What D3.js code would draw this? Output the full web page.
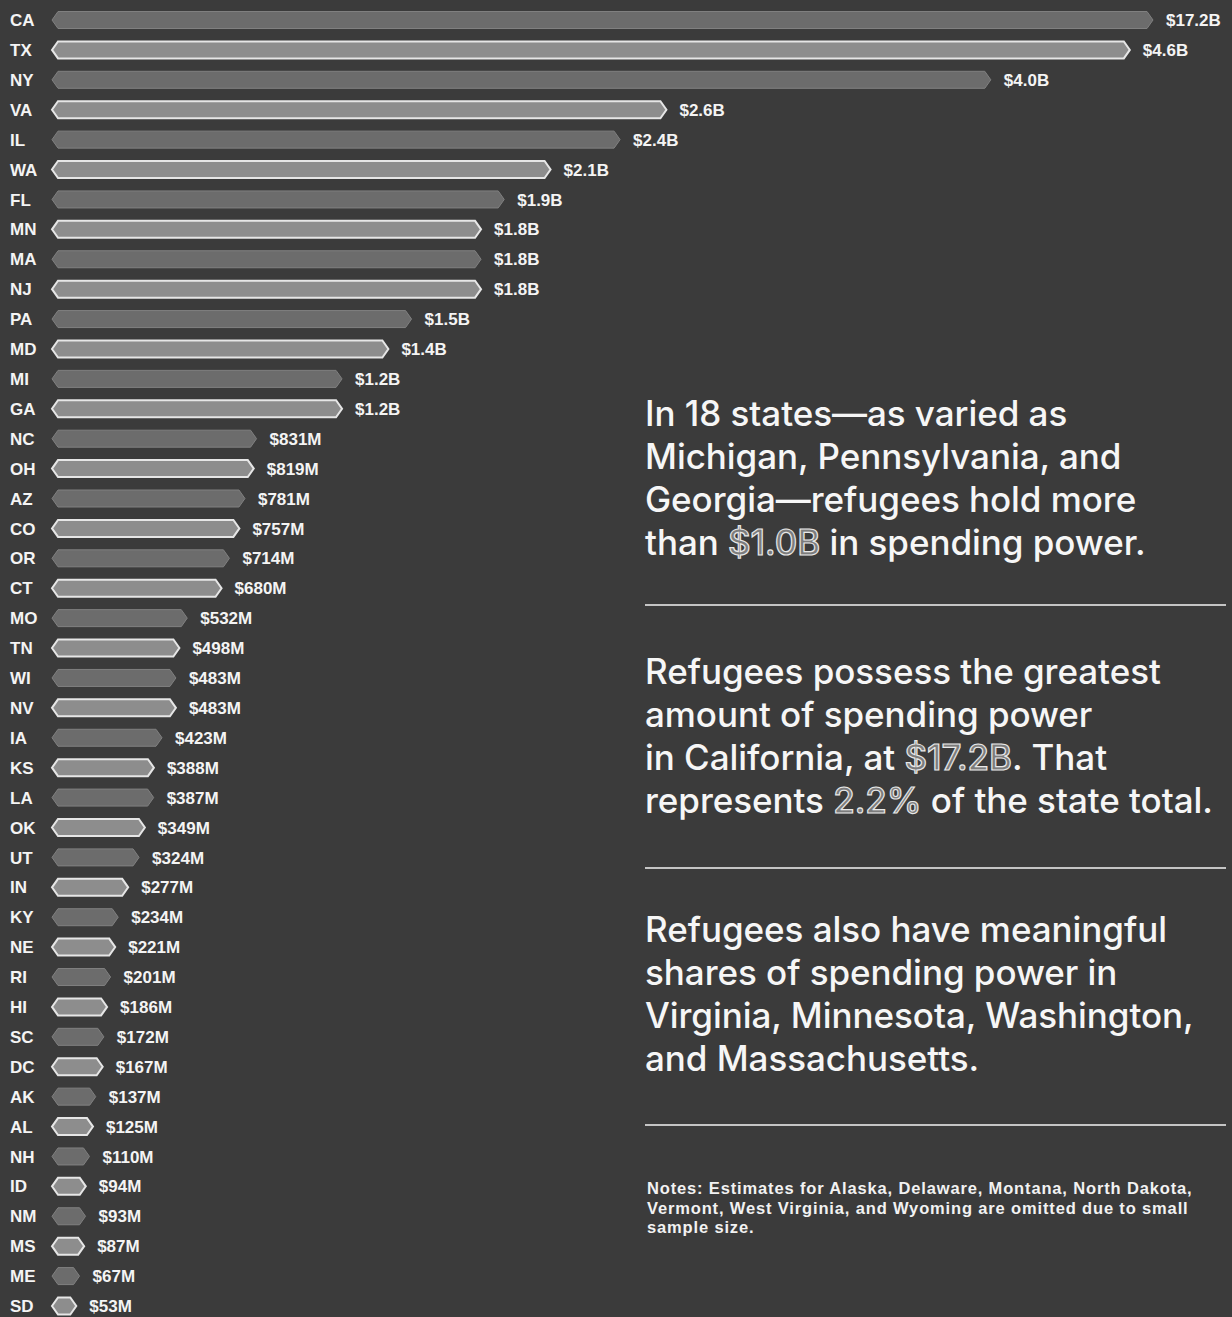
<!DOCTYPE html>
<html>
<head>
<meta charset="utf-8">
<script src="https://cdn.jsdelivr.net/npm/d3@7"></script>
<style>
  html, body { margin: 0; padding: 0; background: #3b3b3b; }
  svg { display: block; }
</style>
</head>
<body>
<svg id="chart" width="1232" height="1317"></svg>
<script>
// Refugee spending power by state, in billions of dollars
const states = ["CA","TX","NY","VA","IL","WA","FL","MN","MA","NJ","PA","MD","MI","GA","NC","OH","AZ","CO","OR","CT","MO","TN","WI","NV","IA","KS","LA","OK","UT","IN","KY","NE","RI","HI","SC","DC","AK","AL","NH","ID","NM","MS","ME","SD"];
const spending = [17.2,4.6,4.0,2.6,2.4,2.1,1.9,1.8,1.8,1.8,1.5,1.4,1.2,1.2,0.831,0.819,0.781,0.757,0.714,0.680,0.532,0.498,0.483,0.483,0.423,0.388,0.387,0.349,0.324,0.277,0.234,0.221,0.201,0.186,0.172,0.167,0.137,0.125,0.110,0.094,0.093,0.087,0.067,0.053];

// Side commentary; highlighted figures are flagged with "hl"
const paragraphs = [
  [[["In 18 states\u2014as varied as"]], [["Michigan, Pennsylvania, and"]], [["Georgia\u2014refugees hold more"]], [["than "], ["$1.0B","hl"], [" in spending power."]]],
  [[["Refugees possess the greatest"]], [["amount of spending power"]], [["in California, at "], ["$17.2B","hl"], [". That"]], [["represents "], ["2.2%","hl"], [" of the state total."]]],
  [[["Refugees also have meaningful"]], [["shares of spending power in"]], [["Virginia, Minnesota, Washington,"]], [["and Massachusetts."]]]
];
const notes = [
  "Notes: Estimates for Alaska, Delaware, Montana, North Dakota,",
  "Vermont, West Virginia, and Wyoming are omitted due to small",
  "sample size."
];

const data = states.map((s, i) => ({ state: s, value: spending[i], i }));
const fmt = v => v >= 1 ? "$" + v.toFixed(1) + "B" : "$" + Math.round(v * 1000) + "M";

const svg = d3.select("#chart");
svg.append("rect").attr("width", 1232).attr("height", 1317).attr("fill", "#3b3b3b");

const barStart = 52;
// California runs off the scale; its bar is clamped at the right edge
const x = d3.scaleLinear().domain([0, 4.7]).range([64, 1153]).clamp(true);
const y = d3.scalePoint().domain(states).range([20, 1306]);

const bh = 17, cap = 6;
function hexBar(x0, x1, cy) {
  const h = bh / 2;
  return `M${x0 + cap},${cy - h}L${x1 - cap},${cy - h}L${x1},${cy}L${x1 - cap},${cy + h}L${x0 + cap},${cy + h}L${x0},${cy}Z`;
}

const rows = svg.append("g").selectAll("g").data(data).join("g");

rows.append("path")
  .attr("d", d => hexBar(barStart, x(d.value), y(d.state)))
  .attr("fill", d => d.i % 2 ? "#8d8d8d" : "#6c6c6c")
  .attr("stroke", d => d.i % 2 ? "#e6e6e6" : "#808080")
  .attr("stroke-width", d => d.i % 2 ? 2 : 1);

rows.append("text")
  .attr("x", 10)
  .attr("y", d => y(d.state))
  .attr("dy", "0.36em")
  .attr("font-family", "Liberation Sans, Arial, sans-serif")
  .attr("font-weight", "bold")
  .attr("font-size", 17)
  .attr("fill", "#f4f4f4")
  .text(d => d.state);

rows.append("text")
  .attr("x", d => x(d.value) + 13)
  .attr("y", d => y(d.state))
  .attr("dy", "0.36em")
  .attr("font-family", "Liberation Sans, Arial, sans-serif")
  .attr("font-weight", "bold")
  .attr("font-size", 17)
  .attr("fill", "#f4f4f4")
  .text(d => fmt(d.value));

// Commentary column
const textX = 645;
const paraTops = [426, 684, 942];
const lineGap = 43;
const side = svg.append("g");
paragraphs.forEach((para, pi) => {
  para.forEach((line, li) => {
    const t = side.append("text")
      .attr("x", textX)
      .attr("y", paraTops[pi] + li * lineGap)
      .attr("font-family", "Inter, Roboto, sans-serif")
      .attr("font-weight", 500)
      .attr("font-size", 35)
      .attr("letter-spacing", -0.05)
      .attr("fill", "#f6f6f6");
    line.forEach(seg => {
      const ts = t.append("tspan").text(seg[0]);
      if (seg[1] === "hl") ts.attr("fill", "#7c7c7c").attr("stroke", "#e8e8e8").attr("stroke-width", 1.2);
    });
  });
});

// Divider rules between paragraphs
[605, 868, 1125].forEach(yy => {
  side.append("line")
    .attr("x1", textX).attr("x2", 1226)
    .attr("y1", yy).attr("y2", yy)
    .attr("stroke", "#c4c4c4").attr("stroke-width", 2);
});

notes.forEach((n, i) => {
  side.append("text")
    .attr("x", 647)
    .attr("y", 1194 + i * 19.5)
    .attr("font-family", "Liberation Sans, Arial, sans-serif")
    .attr("font-weight", "bold")
    .attr("font-size", 16.5)
    .attr("letter-spacing", 0.85)
    .attr("fill", "#f2f2f2")
    .text(n);
});
</script>
</body>
</html>
